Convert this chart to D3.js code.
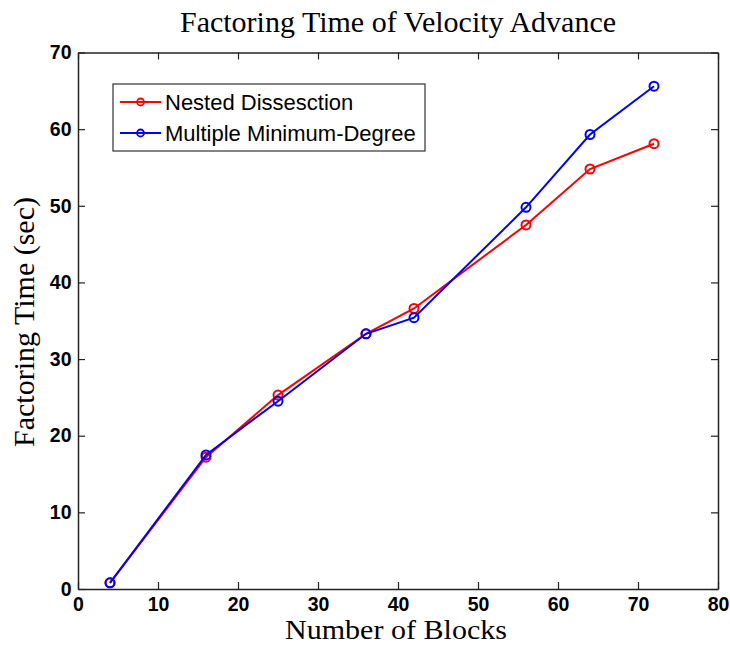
<!DOCTYPE html>
<html><head><meta charset="utf-8">
<script src="https://cdn.jsdelivr.net/npm/d3@7"></script>
<style>body{margin:0;background:#fff}svg{display:block}</style>
</head><body>
<script>
const blocks = [4, 16, 25, 36, 42, 56, 64, 72];
const nestedDissection = [0.8, 17.2, 25.3, 33.3, 36.6, 47.5, 54.8, 58.1];
const multipleMinDegree = [0.8, 17.5, 24.5, 33.3, 35.4, 49.8, 59.3, 65.6];
const seriesNames = ["Nested Dissesction", "Multiple Minimum-Degree"];
const seriesColors = ["#ff0000", "#0000ff"];
const xTicks = [0, 10, 20, 30, 40, 50, 60, 70, 80];
const yTicks = [0, 10, 20, 30, 40, 50, 60, 70];

const W = 730, H = 645;
const L = 78, R = 718, T = 52.5, B = 589;
const svg = d3.select("body").append("svg").attr("width", W).attr("height", H);
const x = d3.scaleLinear().domain([0, 80]).range([L, R]);
const y = d3.scaleLinear().domain([0, 70]).range([B, T]);

const tickFont = "'Liberation Sans', Arial, sans-serif";
const serif = "'Liberation Serif', 'Times New Roman', serif";

// axes
const axB = svg.append("g").attr("transform", `translate(0,${B})`)
  .call(d3.axisBottom(x).tickValues(xTicks).tickSizeInner(-7).tickSizeOuter(0).tickPadding(8.5));
const axT = svg.append("g").attr("transform", `translate(0,${T})`)
  .call(d3.axisTop(x).tickValues(xTicks).tickSizeInner(-7).tickSizeOuter(0).tickFormat(""));
const axL = svg.append("g").attr("transform", `translate(${L},0)`)
  .call(d3.axisLeft(y).tickValues(yTicks).tickSizeInner(-7).tickSizeOuter(0).tickPadding(6.5));
const axR = svg.append("g").attr("transform", `translate(${R},0)`)
  .call(d3.axisRight(y).tickValues(yTicks).tickSizeInner(-7).tickSizeOuter(0).tickFormat(""));
[axB, axT, axL, axR].forEach(a => {
  a.select(".domain").attr("stroke", "#222").attr("stroke-width", 1.5);
  a.selectAll(".tick line").attr("stroke", "#222").attr("stroke-width", 1.2);
  a.selectAll("text").attr("font-family", tickFont).attr("font-weight", "bold")
    .attr("font-size", 19.5).attr("fill", "#000");
});

// series
const seriesData = [nestedDissection, multipleMinDegree];
const line = d3.line().x(d => x(d[0])).y(d => y(d[1]));
seriesData.forEach((vals, i) => {
  const pts = blocks.map((b, j) => [b, vals[j]]);
  const g = svg.append("g");
  g.append("path").attr("d", line(pts)).attr("fill", "none")
    .attr("stroke", seriesColors[i]).attr("stroke-width", 2);
  g.selectAll("circle").data(pts).join("circle")
    .attr("cx", d => x(d[0])).attr("cy", d => y(d[1])).attr("r", 4.5)
    .attr("fill", "none").attr("stroke", seriesColors[i]).attr("stroke-width", 2);
});

// legend
const lg = svg.append("g");
lg.append("rect").attr("x", 113).attr("y", 84).attr("width", 312).attr("height", 67)
  .attr("fill", "#fff").attr("stroke", "#333").attr("stroke-width", 1.2);
seriesNames.forEach((n, i) => {
  const yy = 102 + i * 31;
  lg.append("line").attr("x1", 120).attr("x2", 161).attr("y1", yy).attr("y2", yy)
    .attr("stroke", seriesColors[i]).attr("stroke-width", 2);
  lg.append("circle").attr("cx", 140.5).attr("cy", yy).attr("r", 3.5)
    .attr("fill", "none").attr("stroke", seriesColors[i]).attr("stroke-width", 1.8);
  lg.append("text").attr("x", 165).attr("y", yy).attr("dy", "0.36em")
    .attr("font-family", tickFont).attr("font-size", 22).attr("fill", "#000").text(n);
});

// titles
svg.append("text").attr("x", 398).attr("y", 32).attr("text-anchor", "middle")
  .attr("font-family", serif).attr("font-size", 30).attr("fill", "#000")
  .text("Factoring Time of Velocity Advance");
svg.append("text").attr("x", 396).attr("y", 639).attr("text-anchor", "middle")
  .attr("font-family", serif).attr("font-size", 26.5).attr("fill", "#000")
  .attr("textLength", 222).attr("lengthAdjust", "spacingAndGlyphs")
  .text("Number of Blocks");
svg.append("text").attr("transform", "translate(34,322) rotate(-90)").attr("text-anchor", "middle")
  .attr("font-family", serif).attr("font-size", 30).attr("fill", "#000")
  .text("Factoring Time (sec)");
</script>
</body></html>
